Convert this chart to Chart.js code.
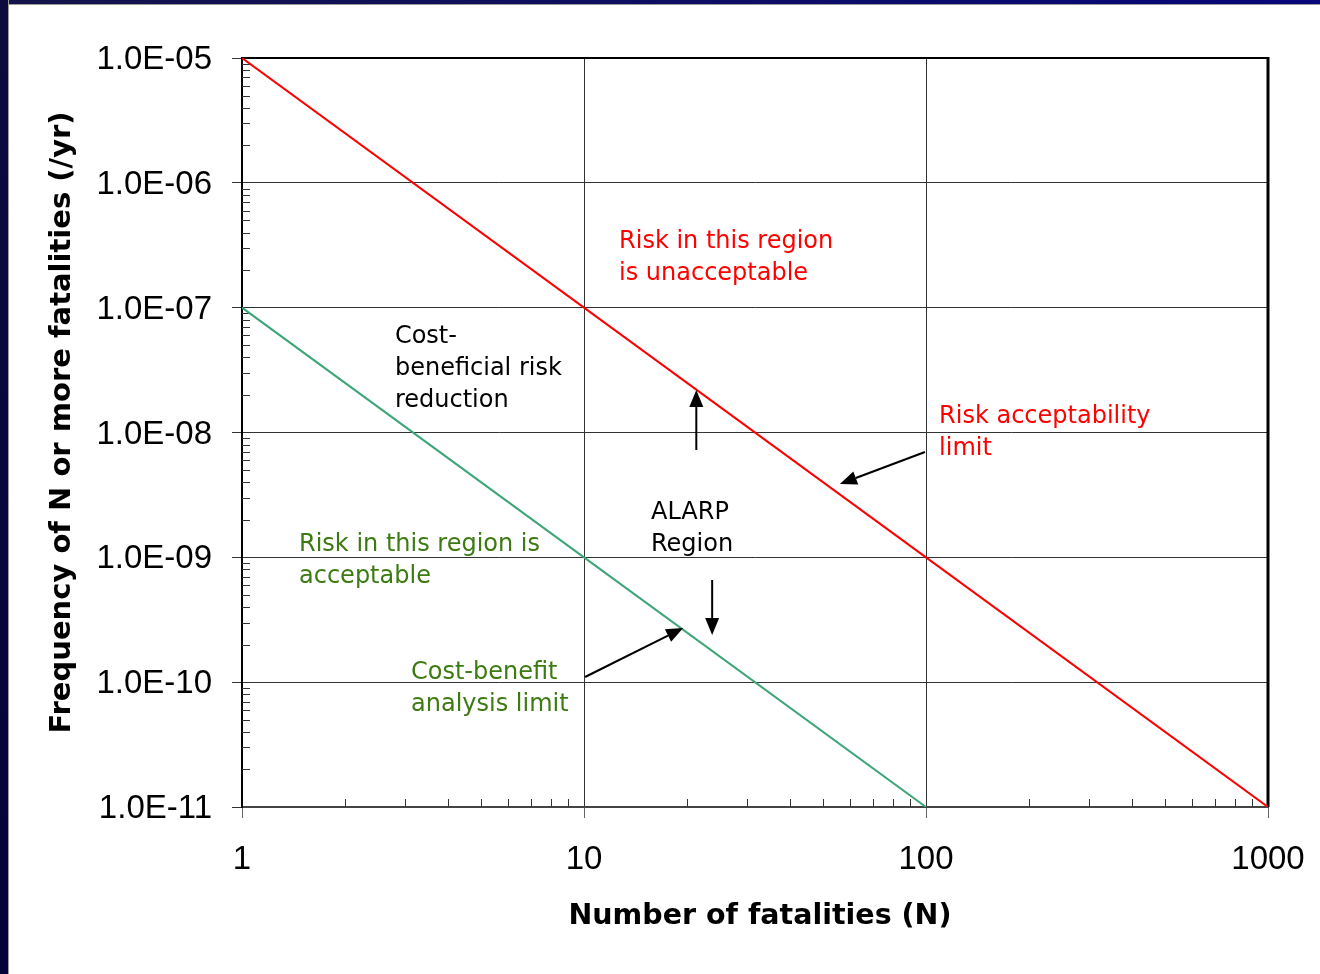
<!DOCTYPE html>
<html>
<head>
<meta charset="utf-8">
<title>F-N criterion</title>
<script src="https://cdn.jsdelivr.net/npm/chart.js@4.4.1/dist/chart.umd.min.js"></script>
<style>
  html, body { margin: 0; padding: 0; background: #ffffff; }
  #wrap { position: relative; width: 1320px; height: 974px; }
  #band-left { position: absolute; left: 0; top: 0; width: 8px; height: 974px; background: linear-gradient(#0b0b3e, #03033a); border-right: 1px solid #9a9a9a; }
  #band-top { position: absolute; left: 0; top: 0; width: 1320px; height: 4px; background: linear-gradient(90deg, #14144a, #06067a); border-bottom: 1px solid #9a9a9a; }
</style>
</head>
<body>
<div id="wrap">
  <canvas id="fnChart"></canvas>
  <div id="band-top"></div>
  <div id="band-left"></div>
</div>
<script>
const { Chart } = window;

// number of fatalities N and the two criterion lines (frequency of N or more per year)
const fatalities = [1, 10, 100, 1000];
const unacceptableLimit = [1e-5, 1e-7, 1e-9, 1e-11];
const costBenefitN = [1, 10, 100];
const costBenefitLimit = [1e-7, 1e-9, 1e-11];

const xTicks = [1, 10, 100, 1000];
const xTickLabels = ["1", "10", "100", "1000"];
const yTicks = [1e-11, 1e-10, 1e-9, 1e-8, 1e-7, 1e-6, 1e-5];
const yTickLabels = ["1.0E-11", "1.0E-10", "1.0E-09", "1.0E-08", "1.0E-07", "1.0E-06", "1.0E-05"];
const minorSteps = [2, 3, 4, 5, 6, 7, 8, 9];

const RED = "#ff0000";
const LINE_GREEN = "#3ca677";
const TEXT_GREEN = "#3c7a12";
const LABEL_FONT = "24px 'DejaVu Sans', Verdana, sans-serif";

// text notes, anchored in data space (left edge, middle of first line)
const notes = [
  { lines: ["Risk in this region", "is unacceptable"], n: 12.66, f: 3.4e-7, color: RED },
  { lines: ["Cost-", "beneficial risk", "reduction"], n: 2.8, f: 5.8e-8, color: "#000000" },
  { lines: ["Risk acceptability", "limit"], n: 109.2, f: 1.33e-8, color: RED },
  { lines: ["ALARP", "Region"], n: 15.7, f: 2.26e-9, color: "#000000" },
  { lines: ["Risk in this region is", "acceptable"], n: 1.468, f: 1.25e-9, color: TEXT_GREEN },
  { lines: ["Cost-benefit", "analysis limit"], n: 3.12, f: 1.18e-10, color: TEXT_GREEN }
];

// arrows: from (n1,f1) to (n2,f2), head at the end
const arrows = [
  { n1: 21.3, f1: 7.24e-9, n2: 21.3, f2: 2.19e-8 },
  { n1: 23.7, f1: 6.58e-10, n2: 23.7, f2: 2.39e-10 },
  { n1: 99.3, f1: 6.98e-9, n2: 56.0, f2: 3.87e-9 },
  { n1: 10.07, f1: 1.1e-10, n2: 19.5, f2: 2.72e-10 }
];

const frame = {
  id: "frame",
  beforeDatasetsDraw(chart) {
    const { ctx, chartArea, scales: { x, y } } = chart;
    ctx.save();
    ctx.strokeStyle = "#333333";
    ctx.lineWidth = 1;
    // minor ticks, drawn inward
    for (let d = -11; d < -5; d++) {
      minorSteps.forEach((k) => {
        const py = Math.round(y.getPixelForValue(k * Math.pow(10, d))) + 0.5;
        ctx.beginPath();
        ctx.moveTo(chartArea.left, py);
        ctx.lineTo(chartArea.left + 8, py);
        ctx.stroke();
      });
    }
    for (let d = 0; d < 3; d++) {
      minorSteps.forEach((k) => {
        const px = Math.round(x.getPixelForValue(k * Math.pow(10, d))) + 0.5;
        ctx.beginPath();
        ctx.moveTo(px, chartArea.bottom);
        ctx.lineTo(px, chartArea.bottom - 8);
        ctx.stroke();
      });
    }
    // top and right edges of the plot box
    ctx.strokeStyle = "#000000";
    ctx.lineWidth = 2;
    ctx.beginPath();
    ctx.moveTo(chartArea.left, chartArea.top);
    ctx.lineTo(chartArea.right, chartArea.top);
    ctx.stroke();
    ctx.lineWidth = 3;
    ctx.beginPath();
    ctx.moveTo(chartArea.right, chartArea.top - 1);
    ctx.lineTo(chartArea.right, chartArea.bottom);
    ctx.stroke();
    ctx.restore();
  },
  afterDatasetsDraw(chart) {
    const { ctx, scales: { x, y } } = chart;
    ctx.save();
    ctx.font = LABEL_FONT;
    ctx.textAlign = "left";
    ctx.textBaseline = "middle";
    notes.forEach((note) => {
      ctx.fillStyle = note.color;
      const px = x.getPixelForValue(note.n);
      const py = y.getPixelForValue(note.f);
      note.lines.forEach((line, i) => ctx.fillText(line, px, py + i * 32));
    });
    ctx.strokeStyle = "#000000";
    ctx.fillStyle = "#000000";
    ctx.lineWidth = 2;
    arrows.forEach((a) => {
      const x1 = x.getPixelForValue(a.n1);
      const y1 = y.getPixelForValue(a.f1);
      const x2 = x.getPixelForValue(a.n2);
      const y2 = y.getPixelForValue(a.f2);
      const ang = Math.atan2(y2 - y1, x2 - x1);
      const head = 17;
      const half = 7;
      const bx = x2 - head * Math.cos(ang);
      const by = y2 - head * Math.sin(ang);
      ctx.beginPath();
      ctx.moveTo(x1, y1);
      ctx.lineTo(bx, by);
      ctx.stroke();
      ctx.beginPath();
      ctx.moveTo(x2, y2);
      ctx.lineTo(bx + half * Math.sin(ang), by - half * Math.cos(ang));
      ctx.lineTo(bx - half * Math.sin(ang), by + half * Math.cos(ang));
      ctx.closePath();
      ctx.fill();
    });
    ctx.restore();
  }
};

const fnCtx = document.getElementById("fnChart");
fnCtx.parentNode.style.width = "1320px";
fnCtx.parentNode.style.height = "974px";

new Chart(fnCtx, {
  type: "scatter",
  data: {
    datasets: [
      {
        label: "Risk acceptability limit",
        data: fatalities.map((n, i) => ({ x: n, y: unacceptableLimit[i] })),
        showLine: true,
        borderColor: RED,
        borderWidth: 2,
        pointRadius: 0,
        fill: false
      },
      {
        label: "Cost-benefit analysis limit",
        data: costBenefitN.map((n, i) => ({ x: n, y: costBenefitLimit[i] })),
        showLine: true,
        borderColor: LINE_GREEN,
        borderWidth: 2,
        pointRadius: 0,
        fill: false
      }
    ]
  },
  options: {
    responsive: true,
    maintainAspectRatio: false,
    animation: false,
    layout: { padding: { left: 0, top: 58, right: 52, bottom: 0 } },
    plugins: {
      legend: { display: false },
      tooltip: { enabled: false }
    },
    scales: {
      x: {
        type: "logarithmic",
        position: "bottom",
        min: 1,
        max: 1000,
        afterBuildTicks: (scale) => { scale.ticks = xTicks.map((v) => ({ value: v })); },
        afterFit: (scale) => {
          scale.height = 167;
          scale.paddingLeft = 0;
          scale.paddingRight = 0;
        },
        ticks: {
          autoSkip: false,
          maxRotation: 0,
          padding: 22,
          color: "#000000",
          font: { family: "'Liberation Sans', Arial, sans-serif", size: 33 },
          callback: (value, index) => xTickLabels[index]
        },
        grid: { color: "#333333", lineWidth: 1, tickLength: 11, tickColor: "#666666" },
        border: { display: true, color: "#444444", width: 2 },
        title: {
          display: true,
          text: " Number of fatalities (N)",
          color: "#000000",
          font: { family: "'DejaVu Sans', Verdana, sans-serif", size: 28.5, weight: "bold" },
          padding: { top: 0, bottom: 40 }
        }
      },
      y: {
        type: "logarithmic",
        position: "left",
        min: 1e-11,
        max: 1e-5,
        afterBuildTicks: (scale) => { scale.ticks = yTicks.map((v) => ({ value: v })); },
        afterFit: (scale) => {
          scale.width = 242;
          scale.paddingTop = 0;
          scale.paddingBottom = 0;
        },
        ticks: {
          autoSkip: false,
          padding: 20,
          labelOffset: 2,
          color: "#000000",
          font: { family: "'Liberation Sans', Arial, sans-serif", size: 33 },
          callback: (value, index) => yTickLabels[index]
        },
        grid: { color: "#333333", lineWidth: 1, tickLength: 10, tickColor: "#333333" },
        border: { display: true, color: "#000000", width: 2 },
        title: {
          display: true,
          text: "  Frequency of N or more fatalities (/yr)",
          color: "#000000",
          font: { family: "'DejaVu Sans', Verdana, sans-serif", size: 29, weight: "bold" },
          padding: { top: 45, bottom: 0 }
        }
      }
    }
  },
  plugins: [frame]
});
</script>
</body>
</html>
